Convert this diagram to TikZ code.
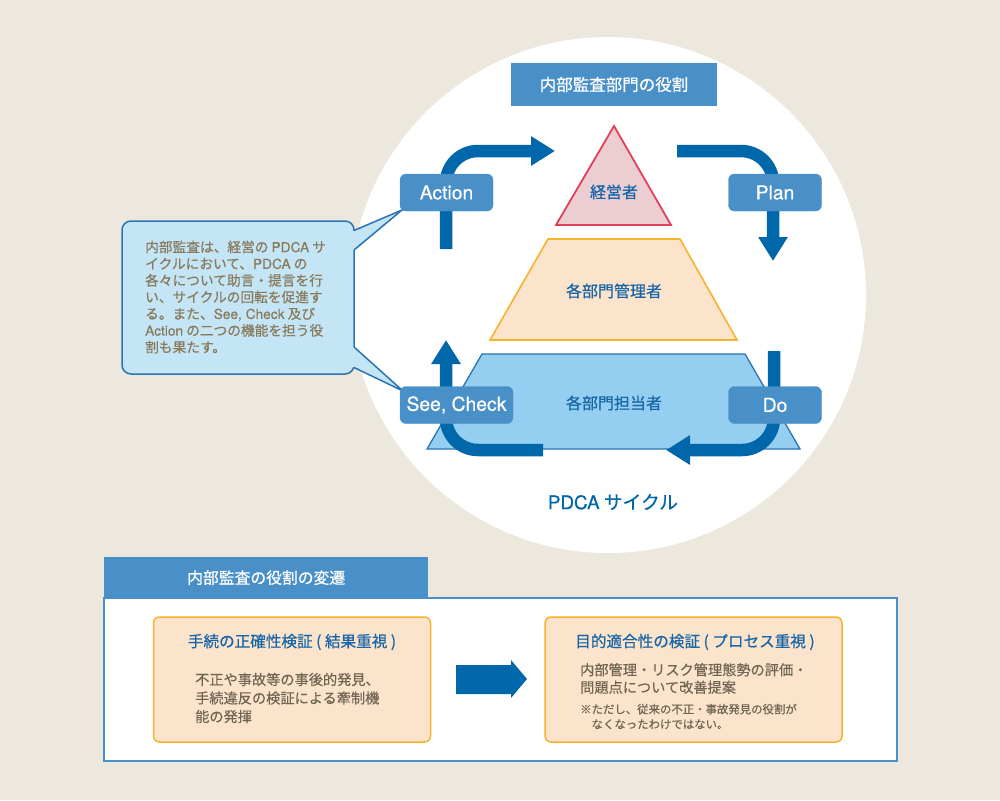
\documentclass[tikz,border=0pt]{standalone}
\usepackage{fontspec}
\setmainfont{Noto Sans CJK JP}
\newfontfamily\jpm[FakeBold=0.6]{Noto Sans CJK JP}
\newfontfamily\jpr[FakeBold=0.3]{Noto Sans CJK JP}
\newfontfamily\lat[FakeBold=0.4]{TeX Gyre Heros}
\usetikzlibrary{arrows.meta}
\definecolor{bg}{HTML}{EDE8DD}
\definecolor{lblue}{HTML}{4A90C8}
\definecolor{dblue}{HTML}{0068AA}
\definecolor{tblue}{HTML}{1766A8}
\definecolor{pinkf}{HTML}{ECCDD2}
\definecolor{redl}{HTML}{E0405A}
\definecolor{peach}{HTML}{FBE3CC}
\definecolor{orangel}{HTML}{F7B32B}
\definecolor{skyf}{HTML}{94CEF0}
\definecolor{skyl}{HTML}{2A74B4}
\definecolor{bubf}{HTML}{C3E5F5}
\definecolor{brownt}{HTML}{8A7A5C}
\definecolor{grayt}{HTML}{6F6552}
\tikzset{
  lbl/.style={draw=lblue, fill=lblue, rounded corners=6pt, text=white, minimum width=93pt, minimum height=37pt, inner sep=0pt, font=\lat\fontsize{19.3}{21}\selectfont},
  pdca/.style={draw=dblue, line width=12.5pt, rounded corners=32pt, -{Triangle[length=24pt,width=28pt]}},
  lvl/.style={text=tblue, font=\jpm\fontsize{16}{19}\selectfont},
  boxt/.style={text=tblue, font=\jpm\fontsize{15.6}{18}\selectfont},
}
\begin{document}
\begin{tikzpicture}[x=1pt,y=-1pt]
\useasboundingbox (0,0) rectangle (1000,800);
\fill[bg] (0,0) rectangle (1000,800);
% circle
\fill[white] (608,295) circle (258);
% title
\node[fill=lblue, text=white, minimum width=206pt, minimum height=43pt, inner sep=0pt, font=\jpm\fontsize{16.5}{20}\selectfont] (title) at (614,84.5) {内部監査部門の役割};
% levels
\draw[fill=pinkf, draw=redl, line width=1.8pt] (614,126) -- (671,225) -- (556,225) -- cycle;
\draw[fill=peach, draw=orangel, line width=1.6pt] (548,239) -- (680,239) -- (737,340) -- (490,340) -- cycle;
\draw[fill=skyf, draw=skyl, line width=1.3pt] (482,354) -- (745,354) -- (800,449) -- (427,449) -- cycle;
\node[lvl] (top) at (614,192) {経営者};
\node[lvl] (mid) at (614,291) {各部門管理者};
\node[lvl] (low) at (614,403) {各部門担当者};
% PDCA arrows
\coordinate (a1) at (446,249); \coordinate (a2) at (446,151); \coordinate (a3) at (555,151);
\coordinate (p1) at (677,151); \coordinate (p2) at (773,151); \coordinate (p3) at (773,261);
\coordinate (d1) at (774,351); \coordinate (d2) at (774,450); \coordinate (d3) at (666,450);
\coordinate (s1) at (543,450); \coordinate (s2) at (446,450); \coordinate (s3) at (446,340);
\draw[pdca] (a1) -- (a2) -- (a3);
\draw[pdca] (p1) -- (p2) -- (p3);
\draw[pdca] (d1) -- (d2) -- (d3);
\draw[pdca] (s1) -- (s2) -- (s3);
% bubble
\draw[fill=bubf, draw=skyl, line width=1.5pt, rounded corners=9pt] (122,221) rectangle (354,374);
\fill[bubf] (349,231) -- (354,231) -- (402,210) -- (354,250) -- (349,250) -- cycle;
\fill[bubf] (349,347) -- (354,347) -- (403,391) -- (354,367) -- (349,367) -- cycle;
\draw[skyl, line width=1.5pt, line join=miter] (354,230.5) -- (402,210) -- (354,250);
\draw[skyl, line width=1.5pt, line join=miter] (354,347) -- (403,391) -- (354,367.5);
\node[anchor=west, align=left, text=brownt, inner sep=0pt, font=\jpm\fontsize{13.7}{16.7}\selectfont] (btext) at (145,297) {内部監査は、経営の {\lat PDCA} サ\\イクルにおいて、{\lat PDCA} の\\各々について助言・提言を行\\い、サイクルの回転を促進す\\る。また、{\lat See, Check} 及び\\{\lat Action} の二つの機能を担う役\\割も果たす。};
% labels
\node[lbl] (action) at (446.5,192.5) {Action};
\node[lbl] (plan) at (775,192.5) {Plan};
\node[lbl, minimum width=113pt] (see) at (456.5,405) {See, Check};
\node[lbl] (do) at (775,405) {Do};
\node[text=dblue, font=\jpm\fontsize{18.8}{21}\selectfont] (cyc) at (613,502) {{\lat PDCA} サイクル};
% bottom section
\draw[fill=white, draw=lblue, line width=2pt] (104,598) rectangle (897,761);
\node[fill=lblue, text=white, anchor=north west, minimum width=324pt, minimum height=41pt, inner sep=0pt, font=\jpm\fontsize{15.8}{19}\selectfont] (tab) at (104,557) {内部監査の役割の変遷};
\draw[fill=peach, draw=orangel, line width=1.5pt, rounded corners=6pt] (153.5,617) rectangle (430.5,742);
\draw[fill=peach, draw=orangel, line width=1.5pt, rounded corners=6pt] (545,617) rectangle (842,742);
\node[boxt] (lt) at (292,642) {手続の正確性検証 ( 結果重視 )};
\node[boxt] (rt) at (695,642) {目的適合性の検証 ( プロセス重視 )};
\node[anchor=west, align=left, text=grayt, inner sep=0pt, font=\jpr\fontsize{14.2}{18.5}\selectfont] (lb) at (195,698) {不正や事故等の事後的発見、\\手続違反の検証による牽制機\\能の発揮};
\node[anchor=west, align=left, text=grayt, inner sep=0pt, font=\jpr\fontsize{14.2}{17.5}\selectfont] (rb) at (580,678.5) {内部管理・リスク管理態勢の評価・\\問題点について改善提案};
\node[anchor=west, align=left, text=grayt, inner sep=0pt, font=\jpr\fontsize{11.4}{15}\selectfont] (rn) at (580,716.5) {※ただし、従来の不正・事故発見の役割が\\\hspace*{1em}なくなったわけではない。};
\fill[dblue] (456,665) -- (511,665) -- (511,660) -- (527,679) -- (511,698) -- (511,694) -- (456,694) -- cycle;
\end{tikzpicture}
\end{document}
